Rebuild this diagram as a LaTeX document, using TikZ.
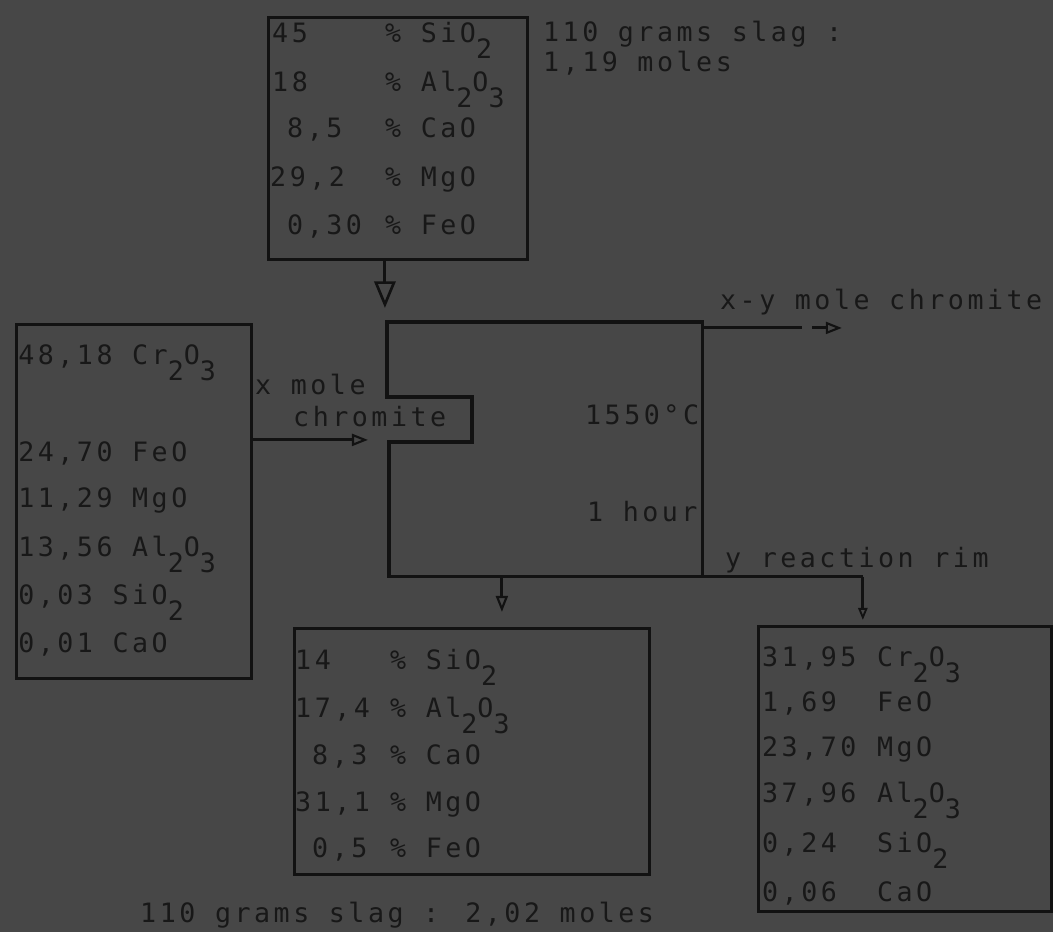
\documentclass[tikz,border=0pt]{standalone}
\usepackage{fontspec}
\usepackage{tikz}
\usetikzlibrary{arrows.meta,positioning}
\newfontfamily\typed[LetterSpace=13.2]{DejaVu Sans Mono}
\definecolor{paper}{HTML}{474747}
\definecolor{ink}{HTML}{121212}
\definecolor{inktext}{HTML}{181818}
\newcommand{\subnum}[1]{\raisebox{-12pt}{#1}}

\begin{document}
\begin{tikzpicture}[x=0.75pt,y=-0.75pt,
  every node/.style={inner sep=0pt,anchor=base west,text=inktext,font=\typed\fontsize{20}{22}\selectfont},
  panel/.style 2 args={draw=ink,line width=2.4pt,anchor=north west,minimum width=#1*0.75pt,minimum height=#2*0.75pt},
  rule/.style={draw=ink,line width=2.2pt},
  flow/.style={rule,-{Triangle[open,width=9pt,length=12pt,line width=1.6pt]}}]
  \fill[paper] (0,0) rectangle (1053,932);
  % feed slag
  \node[panel={259}{242}] (slagin) at (267,16) {};
  \node (si1) at (272,43) {45}; \node at (385,43) {\% SiO\subnum{2}};
  \node (al1) at (272,92) {18}; \node at (385,92) {\% Al\subnum{2}O\subnum{3}};
  \node (ca1) at (287,138) {8,5}; \node at (385,138) {\% CaO};
  \node (mg1) at (270,187) {29,2}; \node at (385,187) {\% MgO};
  \node (fe1) at (287,235) {0,30}; \node at (385,235) {\% FeO};
  \node (mass1) at (543,42) {110 grams slag :};
  \node (mol1) at (543,72) {1,19 moles};
  % chromite
  \node[panel={235}{354}] (chromin) at (15,323) {};
  \node at (18,365) {48,18 Cr\subnum{2}O\subnum{3}};
  \node at (18,462) {24,70 FeO}; \node at (18,508) {11,29 MgO};
  \node at (18,557) {13,56 Al\subnum{2}O\subnum{3}};
  \node at (18,605) {0,03 SiO\subnum{2}}; \node at (18,653) {0,01 CaO};
  \node (xin) at (255,395) {x mole}; \node (xin2) at (293,427) {chromite};
  % furnace
  \coordinate (fnw) at (387,322); \coordinate (fne) at (703,322);
  \coordinate (fse) at (703,577); \coordinate (fsw) at (389,577);
  \draw[rule,line width=2.4pt] (fnw) -- (fne) -- (fse) -- (fsw) -- (389,442) -- (472,442) -- (472,397) -- (387,397) -- cycle;
  \node (temp) at (585,425) {1550°C}; \node (time) at (587,522) {1 hour};
  \node (xyout) at (720,310) {x-y mole chromite};
  \node (rim) at (725,568) {y reaction rim};
  % products
  \node[panel={355}{246}] (slagout) at (293,627) {};
  \node at (295,670) {14}; \node at (390,670) {\% SiO\subnum{2}};
  \node at (295,718) {17,4}; \node at (390,718) {\% Al\subnum{2}O\subnum{3}};
  \node at (312,765) {8,3}; \node at (390,765) {\% CaO};
  \node at (295,812) {31,1}; \node at (390,812) {\% MgO};
  \node at (312,858) {0,5}; \node at (390,858) {\% FeO};
  \node (mass2) at (140,923) {110 grams slag : 2,02 moles};
  \node[panel={293}{285}] (rimbox) at (757,625) {};
  \node at (762,667) {31,95}; \node at (877,667) {Cr\subnum{2}O\subnum{3}};
  \node at (762,712) {1,69}; \node at (877,712) {FeO};
  \node at (762,757) {23,70}; \node at (877,757) {MgO};
  \node at (762,803) {37,96}; \node at (877,803) {Al\subnum{2}O\subnum{3}};
  \node at (762,853) {0,24}; \node at (877,853) {SiO\subnum{2}};
  \node at (762,902) {0,06}; \node at (877,902) {CaO};
  % flows
  \coordinate (feed) at (385,308); \coordinate (chrin) at (368,440);
  \coordinate (chrout) at (842,328); \coordinate (slagdn) at (502,612);
  \coordinate (rimturn) at (863,577); \coordinate (rimdn) at (863,620);
  \draw[flow,-{Triangle[open,width=16pt,length=20pt,line width=2pt]}] (slagin.south -| feed) -- (feed);
  \draw[flow] (chromin.east |- chrin) -- (chrin);
  \draw[flow,dash pattern=on 74pt off 8pt on 60pt] (fne |- chrout) -- (chrout);
  \draw[flow] (fsw -| slagdn) -- (slagdn);
  \draw[rule] (fse) -- (rimturn);
  \draw[flow,-{Triangle[open,width=7pt,length=9pt,line width=1.4pt]}] (rimturn) -- (rimdn);
\end{tikzpicture}
\end{document}
